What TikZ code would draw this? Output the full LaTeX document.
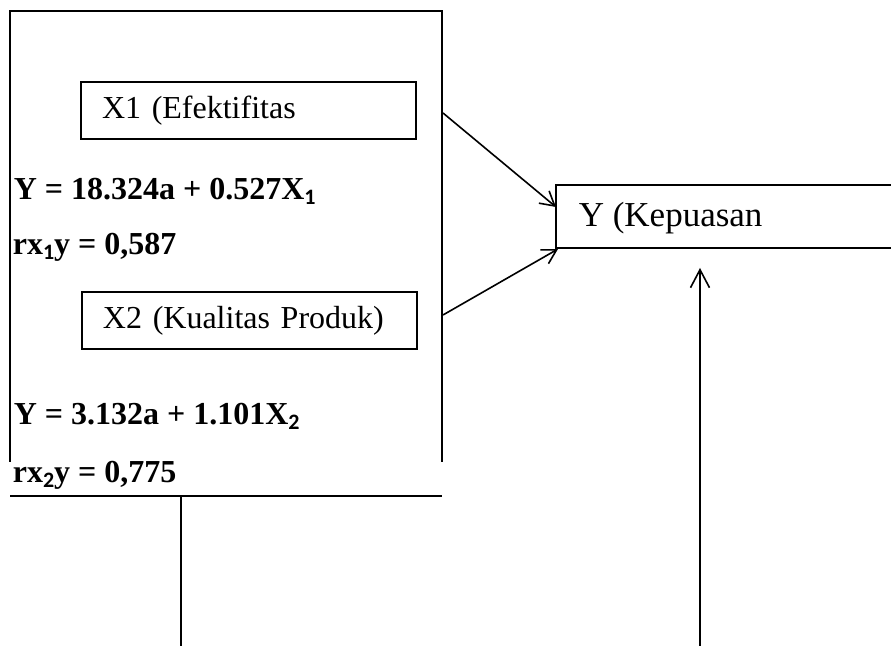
\documentclass[tikz,border=0pt]{standalone}
\usepackage{fontspec}
\setmainfont{Liberation Serif}
\newfontfamily\subfont{Carlito}
\usetikzlibrary{arrows.meta}
\newcommand{\sbs}[1]{\raisebox{-2.2pt}{\subfont\bfseries\fontsize{11}{11}\selectfont #1}}
\begin{document}
\begin{tikzpicture}[x=0.5pt,y=-0.5pt,line width=0.8pt,
  txt/.style={anchor=base west,inner sep=0pt,font=\fontsize{16}{19}\selectfont},
  eq/.style={txt,font=\fontsize{16}{19}\selectfont\bfseries},
  varbox/.style={draw,text width=146.5pt,inner xsep=10.5pt,inner ysep=0pt,align=left,minimum height=28.5pt,font=\fontsize{16}{19}\selectfont},
  arr/.style={-{Straight Barb[length=7pt,width=8pt]}},
  varr/.style={-{Straight Barb[length=9pt,width=9.5pt]}}]
\useasboundingbox (0,0) rectangle (891,646);
% outer frame
\coordinate (fl) at (10,462);
\coordinate (ftl) at (10,11);
\coordinate (ftr) at (442,11);
\coordinate (fr) at (442,462);
\coordinate (bl) at (10,496);
\coordinate (br) at (442,496);
\draw (fl) -- (ftl) -- (ftr) -- (fr);
\draw (bl) -- (br);
% inner boxes
\node[varbox] (x1) at (248.5,110.5) {X1 (Efektifitas};
\node[varbox] (x2) at (249.5,320.5) {X2 (Kualitas Produk)};
% equations
\node[eq] (e1) at (13,200) {Y = 18.324a + 0.527X\sbs{1}};
\node[eq] (e2) at (12,255) {rx\sbs{1}y = 0,587};
\node[eq] (e3) at (13,425) {Y = 3.132a + 1.101X\sbs{2}};
\node[eq] (e4) at (12,483) {rx\sbs{2}y = 0,775};
% Y box
\coordinate (ytr) at (891,185);
\coordinate (ytl) at (556,185);
\coordinate (ybl) at (556,248);
\coordinate (ybr) at (891,248);
\draw (ytr) -- (ytl) -- (ybl) -- (ybr);
\node[txt,font=\fontsize{17.5}{20}\selectfont] (y) at (578,227) {Y (Kepuasan};
% arrows
\coordinate (a1s) at (443,113);
\coordinate (a1e) at (556,207);
\coordinate (a2s) at (443,315);
\coordinate (a2e) at (558,249);
\draw[arr] (a1s) -- (a1e);
\draw[arr] (a2s) -- (a2e);
\coordinate (v1t) at (181,496);
\coordinate (v1b) at (181,646);
\draw (v1t) -- (v1b);
\coordinate (v2b) at (700,646);
\coordinate (v2t) at (700,268);
\draw[varr] (v2b) -- (v2t);
\end{tikzpicture}
\end{document}
